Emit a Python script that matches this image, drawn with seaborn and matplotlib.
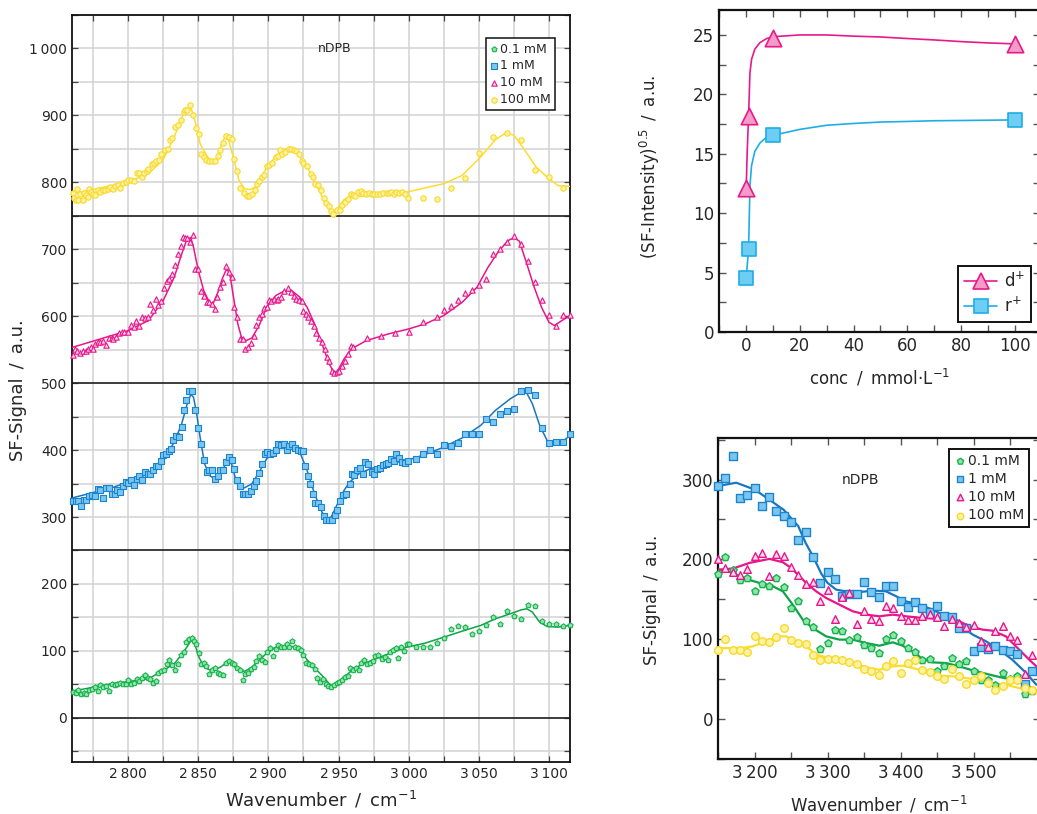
import numpy as np
import pandas as pd
import seaborn as sns
import matplotlib
matplotlib.use("Agg")
import matplotlib.pyplot as plt
from matplotlib.ticker import MultipleLocator, FuncFormatter
from matplotlib.lines import Line2D

# ---------------- CH-stretch region, stacked spectra (offset values) ----------------
green_x = [2760.5, 2762.6, 2764.5, 2766.3, 2768.4, 2770.3, 2772.4, 2774.5, 2776.3, 2778.2,
           2780.3, 2782.4, 2784.2, 2786.3, 2788.2, 2790.3, 2792.1, 2793.9, 2796.1, 2798.2,
           2800.0, 2801.8, 2803.9, 2806.1, 2807.9, 2810.0, 2811.8, 2813.9, 2815.8, 2817.9,
           2819.7, 2821.6, 2823.7, 2825.5, 2827.6, 2829.5, 2831.6, 2833.4, 2835.5, 2837.6,
           2839.5, 2841.3, 2843.4, 2845.3, 2846.8, 2848.7, 2850.5, 2852.1, 2853.9, 2855.8,
           2857.9, 2859.7, 2861.8, 2863.9, 2865.8, 2867.6, 2869.7, 2871.8, 2873.7, 2875.5,
           2877.6, 2879.7, 2881.6, 2883.4, 2885.5, 2887.6, 2889.5, 2891.3, 2893.4, 2895.5,
           2897.4, 2899.2, 2901.3, 2903.2, 2905.3, 2907.1, 2909.2, 2911.3, 2913.2, 2915.0,
           2917.1, 2918.9, 2921.0, 2922.9, 2925.0, 2926.8, 2928.9, 2930.8, 2932.9, 2934.7,
           2936.8, 2938.7, 2940.8, 2942.6, 2944.7, 2946.6, 2948.7, 2950.5, 2952.6, 2954.5,
           2956.6, 2958.4, 2960.5, 2962.4, 2964.5, 2966.3, 2968.4, 2970.3, 2972.4, 2974.5,
           2976.3, 2978.4, 2980.8, 2982.9, 2985.0, 2986.8, 2988.9, 2990.8, 2992.6, 2994.7,
           2996.8, 2998.7, 3000.0,
           3005, 3010, 3015, 3020, 3025, 3030, 3035, 3040, 3045, 3050,
           3055, 3060, 3065, 3070, 3075, 3080, 3085, 3090, 3095, 3100,
           3105, 3110, 3115]
green_y = [38.4, 36.9, 40.9, 34.9, 36.9, 35.9, 41.9, 43.4, 45.8, 39.9,
           48.3, 45.8, 46.8, 39.9, 49.8, 48.3, 49.8, 51.8, 50.8, 49.8,
           56.8, 49.8, 51.8, 58.3, 54.8, 59.8, 63.3, 59.8, 58.3, 51.8,
           54.8, 66.8, 69.7, 71.7, 79.7, 85.7, 78.2, 70.7, 79.7, 94.6,
           98.1, 113.1, 118.0, 119.5, 114.6, 110.6, 96.6, 80.7, 81.7, 76.7,
           64.8, 70.7, 74.7, 66.8, 65.8, 63.3, 81.7, 84.7, 81.7, 79.7,
           74.7, 71.7, 56.8, 65.8, 66.8, 73.2, 75.7, 84.7, 91.7, 86.7,
           83.2, 98.1, 104.6, 91.7, 103.1, 108.1, 105.6, 105.6, 110.6, 105.6,
           114.6, 105.6, 104.6, 101.6, 94.6, 81.7, 79.7, 78.2, 73.2, 59.8,
           53.3, 58.3, 49.8, 46.8, 45.8, 48.3, 51.8, 53.3, 55.8, 60.8,
           61.8, 74.7, 71.7, 74.7, 70.7, 81.7, 85.7, 79.7, 81.7, 84.7,
           91.7, 94.6, 88.2, 90.7, 86.7, 98.1, 101.6, 104.6, 89.7, 105.6,
           99.6, 109.6, 110.6,
           105.6, 105.6, 105.6, 111.6, 119.5, 133.0, 136.5, 135.5, 124.5, 129.5,
           138.0, 150.4, 140.5, 159.4, 152.4, 147.4, 167.9, 166.4, 144.4, 139.5,
           139.5, 136.5, 139.0]

blue_x = [2760.5, 2762.6, 2764.5, 2766.3, 2768.4, 2770.3, 2772.4, 2774.5, 2776.3, 2778.2,
          2780.3, 2782.4, 2784.2, 2786.3, 2788.2, 2790.3, 2792.1, 2793.9, 2796.1, 2798.2,
          2800.0, 2801.8, 2803.9, 2806.1, 2807.9, 2810.0, 2811.8, 2813.9, 2815.8, 2817.9,
          2819.7, 2821.6, 2823.2, 2825.0, 2826.8, 2828.9, 2830.8, 2832.1, 2834.2, 2836.1,
          2838.2, 2840.0, 2841.6, 2843.4, 2845.5, 2847.9, 2850.0, 2851.8, 2853.9, 2856.1,
          2857.9, 2860.0, 2861.8, 2863.9, 2865.8, 2867.9, 2869.7, 2871.6, 2873.7, 2875.8,
          2877.6, 2879.7, 2881.6, 2883.4, 2885.5, 2887.4, 2889.5, 2891.3, 2893.4, 2895.5,
          2897.4, 2899.2, 2901.3, 2903.2, 2905.3, 2907.1, 2909.2, 2911.3, 2913.2, 2915.0,
          2917.1, 2918.9, 2921.0, 2922.9, 2925.0, 2926.3, 2928.2, 2929.7, 2931.6, 2933.4,
          2935.5, 2937.6, 2939.5, 2941.3, 2943.4, 2945.3, 2947.4, 2949.2, 2951.3, 2953.2,
          2955.3, 2957.9, 2959.7, 2961.3, 2963.2, 2965.0, 2967.1, 2968.9, 2971.1, 2973.7,
          2975.5, 2977.6, 2979.7, 2981.6, 2983.7, 2985.5, 2987.6, 2989.5, 2991.3, 2993.4,
          2995.5, 2997.6, 2999.5,
          3005, 3010, 3015, 3020, 3025, 3030, 3035, 3040, 3045, 3050,
          3055, 3060, 3065, 3070, 3075, 3080, 3085, 3090, 3095, 3100,
          3105, 3110, 3115]
blue_y = [323.7, 323.7, 323.7, 315.8, 325.7, 325.7, 330.7, 332.2, 330.7, 342.1,
          339.7, 328.7, 343.6, 343.6, 334.7, 334.7, 339.7, 337.2, 345.6, 352.1,
          350.6, 354.6, 347.1, 357.1, 360.6, 355.6, 367.0, 363.6, 363.6, 369.5,
          375.5, 375.5, 383.5, 392.0, 393.4, 398.4, 401.9, 415.4, 420.3, 419.3,
          434.3, 460.2, 474.1, 488.1, 488.1, 459.2, 433.3, 408.4, 384.5, 367.0,
          370.5, 370.5, 357.1, 360.6, 369.5, 370.5, 382.0, 389.5, 385.5, 372.0,
          355.6, 345.6, 333.7, 333.7, 333.7, 338.7, 345.6, 353.6, 365.6, 378.5,
          393.4, 396.9, 393.4, 395.4, 400.4, 408.4, 406.9, 408.4, 400.4, 405.4,
          408.4, 403.4, 399.4, 398.4, 398.4, 375.5, 360.6, 348.6, 334.7, 320.7,
          320.7, 314.8, 300.8, 294.8, 294.8, 294.8, 302.3, 310.8, 323.7, 332.2,
          333.7, 349.6, 363.6, 362.1, 370.5, 373.5, 363.6, 382.0, 379.5, 367.0,
          363.6, 372.0, 373.5, 377.0, 379.5, 380.5, 387.0, 383.5, 393.4, 388.5,
          382.0, 380.5, 383.5,
          387.0, 393.4, 400.4, 393.4, 406.9, 405.4, 410.4, 423.3, 423.3, 423.3,
          446.7, 441.8, 454.2, 458.2, 461.7, 488.1, 490.1, 482.6, 432.8, 410.9,
          411.9, 411.9, 423.3]

pink_x = [2760.5, 2761.8, 2763.7, 2765.8, 2767.6, 2769.7, 2771.6, 2773.7, 2775.0, 2776.3,
          2778.2, 2780.3, 2782.1, 2784.2, 2786.1, 2788.2, 2789.5, 2791.3, 2793.4, 2795.3,
          2797.4, 2800.0, 2801.8, 2803.9, 2805.8, 2807.9, 2809.7, 2811.8, 2813.9, 2815.8,
          2817.9, 2819.7, 2821.6, 2823.7, 2825.8, 2827.6, 2828.9, 2831.6, 2833.7, 2835.5,
          2837.4, 2838.9, 2840.8, 2842.1, 2843.9, 2846.1, 2847.9, 2850.0, 2851.8, 2853.9,
          2856.1, 2857.9, 2859.7, 2861.8, 2863.7, 2865.8, 2867.6, 2869.7, 2871.6, 2873.7,
          2875.5, 2877.6, 2879.7, 2881.6, 2883.4, 2885.5, 2887.6, 2889.5, 2891.3, 2893.4,
          2895.3, 2896.6, 2898.7, 2900.5, 2902.1, 2903.9, 2905.8, 2907.1, 2909.2, 2911.3,
          2913.7, 2915.8, 2917.9, 2919.7, 2921.8, 2923.7, 2925.0, 2926.8, 2928.4, 2930.3,
          2932.4, 2934.2, 2936.1, 2938.2, 2940.0, 2941.6, 2943.4, 2945.3, 2946.8, 2948.7,
          2950.5, 2952.6, 2954.5, 2956.6, 2958.7, 2960.5,
          2970, 2980, 2990, 3000, 3010, 3020, 3025, 3030, 3035, 3040,
          3045, 3050, 3055, 3060, 3065, 3070, 3075, 3080, 3085, 3090,
          3095, 3100, 3105, 3110, 3115]
pink_y = [542.6, 551.1, 548.6, 544.6, 548.6, 548.6, 551.1, 553.6, 551.1, 558.5,
          561.0, 561.0, 563.5, 557.5, 567.5, 567.5, 566.0, 569.5, 574.5, 576.0,
          576.0, 576.0, 587.0, 583.5, 592.5, 586.0, 598.5, 597.5, 599.5, 618.4,
          609.4, 625.9, 616.9, 623.4, 642.3, 653.3, 655.8, 663.3, 675.8, 693.2,
          704.2, 718.2, 717.2, 717.2, 710.7, 721.6, 670.8, 670.8, 638.3, 630.8,
          620.9, 620.9, 618.4, 610.9, 629.4, 643.3, 650.8, 674.8, 665.8, 658.3,
          614.4, 598.5, 566.0, 566.0, 551.1, 554.6, 560.0, 571.0, 587.5, 599.4,
          603.4, 612.4, 614.4, 624.4, 623.4, 625.9, 624.4, 625.9, 628.4, 637.4,
          642.3, 635.9, 630.9, 625.9, 624.4, 622.4, 608.4, 603.4, 599.4, 592.5,
          586.0, 575.0, 567.0, 561.0, 551.1, 539.6, 533.6, 518.6, 514.6, 516.1,
          518.6, 526.1, 533.6, 543.6, 556.0, 553.5,
          567.5, 571.0, 574.5, 576.0, 591.0, 598.5, 610.0, 616.0, 623.5, 635.0,
          638.5, 647.0, 656.0, 693.0, 701.0, 711.0, 720.0, 708.0, 683.0, 651.0,
          624.0, 602.0, 586.0, 602.0, 602.0]

yellow_x = [2760.5, 2761.1, 2762.6, 2763.7, 2764.5, 2765.8, 2767.6, 2768.4, 2769.7, 2771.1,
            2772.4, 2773.7, 2775.0, 2776.3, 2778.2, 2780.3, 2782.1, 2783.7, 2785.5, 2787.4,
            2789.5, 2790.8, 2792.6, 2793.9, 2796.1, 2798.7, 2800.0, 2801.8, 2803.9, 2806.1,
            2807.9, 2809.7, 2811.3, 2813.2, 2814.5, 2817.1, 2818.4, 2819.7, 2821.8, 2823.7,
            2826.3, 2828.2, 2829.7, 2831.6, 2833.7, 2835.5, 2837.6, 2839.5, 2840.8, 2842.1,
            2843.9, 2846.1, 2848.2, 2850.3, 2851.8, 2853.9, 2855.8, 2857.9, 2859.7, 2861.8,
            2863.9, 2865.8, 2867.6, 2869.7, 2871.8, 2873.7, 2875.5, 2877.6, 2879.7, 2882.4,
            2884.7, 2886.3, 2888.2, 2890.3, 2892.1, 2893.4, 2895.3, 2896.8, 2898.7, 2900.5,
            2902.6, 2905.3, 2907.1, 2908.4, 2909.7, 2911.8, 2914.5, 2916.3, 2917.9, 2919.7,
            2921.8, 2923.7, 2925.0, 2927.6, 2930.3, 2931.6, 2933.4, 2935.5, 2937.6, 2939.5,
            2941.3, 2942.9, 2944.7, 2946.1, 2948.7, 2950.8, 2952.6, 2954.7, 2956.6, 2958.7,
            2960.5, 2961.8, 2963.9, 2965.8, 2967.6, 2969.7, 2971.6, 2973.7, 2975.5, 2977.6,
            2979.7, 2981.6, 2984.2, 2986.1, 2987.6, 2989.5, 2991.3, 2993.4, 2995.5, 2997.4,
            2999.5, 3010, 3020, 3030, 3040, 3050, 3060, 3070, 3080, 3090,
            3100, 3110]
yellow_y = [784.0, 777.0, 774.0, 790.5, 773.0, 783.0, 774.0, 784.0, 780.5, 778.0,
            790.5, 785.5, 783.0, 781.5, 788.0, 785.5, 789.0, 788.0, 790.5, 793.0,
            790.5, 794.0, 795.5, 791.5, 799.0, 800.5, 803.0, 804.0, 802.0, 814.0,
            814.0, 808.0, 814.0, 817.0, 820.5, 827.0, 829.0, 831.4, 833.0, 842.0,
            848.8, 850.3, 862.8, 866.8, 882.8, 885.3, 893.7, 905.2, 907.7, 907.7,
            915.2, 901.2, 881.8, 871.8, 842.9, 837.9, 833.9, 831.4, 831.4, 831.4,
            838.9, 847.8, 859.3, 868.8, 867.8, 865.3, 835.4, 817.0, 792.0, 784.0,
            779.5, 779.5, 783.0, 788.0, 797.0, 801.5, 808.0, 810.4, 824.4, 825.4,
            829.4, 837.9, 838.9, 847.8, 842.9, 845.3, 850.3, 849.3, 847.8, 846.8,
            841.9, 831.4, 828.9, 823.9, 811.9, 808.0, 798.0, 795.5, 788.0, 777.0,
            769.0, 764.0, 757.0, 753.0, 758.0, 759.0, 765.5, 770.5, 774.5, 782.0,
            780.5, 779.0, 785.5, 787.0, 784.0, 782.0, 784.0, 783.0, 783.0, 782.0,
            782.0, 784.0, 784.0, 784.5, 785.5, 782.0, 785.5, 784.0, 785.5, 783.0,
            777.0, 777.0, 775.5, 792.0, 806.5, 843.8, 867.8, 874.3, 862.8, 819.0,
            808.0, 791.5]

# fitted model curves (same offsets)
green_fit_x = [2760.5, 2788.2, 2814.5, 2825.0, 2832.9, 2839.5, 2843.4, 2845.5, 2847.4, 2850.5,
               2853.9, 2857.9, 2861.8, 2865.8, 2869.7, 2872.9, 2876.3, 2879.7, 2883.4, 2888.2,
               2893.4, 2898.7, 2905.3, 2911.8, 2917.1, 2922.4, 2927.6, 2932.9, 2938.2, 2943.4,
               2946.1, 2950.0, 2955.3, 2961.8, 2972.4, 2985.5, 2998.7, 3011.8, 3025.0, 3038.2,
               3051.3, 3061.8, 3072.4, 3080.3, 3084.2, 3088.2, 3093.4, 3098.7, 3106.6, 3115.0]
green_fit_y = [39.9, 50.8, 58.3, 70.7, 80.7, 98.1, 110.6, 118.0, 110.6, 90.7,
               76.7, 71.7, 71.7, 75.7, 81.7, 83.2, 75.7, 69.7, 69.7, 75.7,
               85.7, 96.6, 105.6, 106.6, 106.6, 101.6, 86.7, 74.7, 63.3, 50.8,
               46.8, 53.3, 63.3, 74.7, 84.7, 95.6, 105.6, 111.6, 120.5, 129.5,
               138.0, 147.9, 155.4, 161.4, 162.9, 157.9, 142.9, 136.5, 135.5, 138.0]

blue_fit_x = [2760.5, 2788.2, 2800.0, 2814.5, 2825.0, 2832.9, 2838.2, 2842.1, 2844.7, 2846.6,
              2848.7, 2851.3, 2854.5, 2857.9, 2861.8, 2865.8, 2869.7, 2871.8, 2873.7, 2876.3,
              2878.9, 2882.9, 2888.2, 2893.4, 2898.7, 2905.3, 2911.8, 2917.1, 2922.4, 2927.6,
              2932.9, 2938.2, 2942.1, 2944.7, 2948.7, 2953.9, 2957.9, 2964.5, 2972.4, 2985.5,
              2998.7, 3011.8, 3025.0, 3038.2, 3051.3, 3061.8, 3072.4, 3080.3, 3084.2, 3088.2,
              3093.4, 3098.7, 3103.9, 3109.2, 3115.0]
blue_fit_y = [328.7, 343.6, 352.1, 364.6, 384.5, 411.9, 439.3, 469.1, 483.1, 479.1,
              456.7, 419.3, 379.5, 362.1, 357.1, 364.6, 379.5, 384.5, 379.5, 359.6,
              345.6, 343.6, 349.6, 367.0, 386.9, 401.9, 407.9, 405.4, 396.9, 369.5,
              334.7, 307.3, 297.3, 299.8, 317.2, 339.7, 352.1, 364.6, 372.0, 379.5,
              384.5, 393.4, 404.4, 418.3, 436.8, 459.2, 476.6, 486.6, 485.1, 469.1,
              436.8, 414.4, 406.9, 411.9, 421.8]

pink_fit_x = [2760.5, 2800.0, 2814.5, 2825.0, 2832.9, 2838.2, 2842.1, 2844.7, 2846.6, 2850.0,
              2853.9, 2857.9, 2860.5, 2864.5, 2867.1, 2869.7, 2871.0, 2872.9, 2875.5, 2878.2,
              2880.8, 2884.2, 2888.2, 2893.4, 2898.7, 2905.3, 2911.8, 2917.1, 2922.4, 2927.6,
              2932.9, 2938.2, 2943.4, 2946.6, 2949.2, 2953.9, 2959.2, 2969.7, 2985.5, 3000.0,
              3011.8, 3025.0, 3038.2, 3048.7, 3056.6, 3064.5, 3071.0, 3075.0, 3078.9, 3084.2,
              3089.5, 3094.7, 3100.0, 3103.9, 3109.2, 3115.0]
pink_fit_y = [553.6, 578.5, 593.5, 623.4, 658.3, 693.2, 715.7, 717.2, 703.2, 668.3,
              638.3, 620.9, 618.4, 638.3, 655.8, 668.3, 669.3, 658.3, 623.4, 588.5,
              568.5, 563.5, 567.5, 586.0, 613.4, 630.9, 638.3, 637.4, 628.4, 613.4,
              588.5, 558.5, 528.6, 516.1, 517.6, 536.1, 551.1, 563.5, 573.5, 581.0,
              588.5, 601.0, 620.9, 643.3, 673.3, 698.2, 713.2, 717.2, 712.2, 678.3,
              643.3, 613.4, 591.0, 586.0, 593.5, 601.0]

yellow_fit_x = [2760.5, 2800.0, 2814.5, 2825.0, 2832.9, 2838.2, 2840.8, 2845.0, 2848.2, 2851.3,
                2856.6, 2860.5, 2863.2, 2867.1, 2870.3, 2875.0, 2879.0, 2882.9, 2886.8, 2890.8,
                2894.7, 2900.0, 2906.6, 2913.2, 2917.1, 2921.0, 2927.6, 2935.5, 2940.8, 2944.7,
                2946.8, 2950.0, 2954.0, 2959.2, 2972.4, 2998.7, 3025.0, 3038.2, 3051.3, 3061.8,
                3069.7, 3075.0, 3082.9, 3090.8, 3098.7, 3106.6, 3115.0]
yellow_fit_y = [783.0, 800.4, 812.9, 833.9, 867.8, 896.7, 907.7, 910.2, 887.7, 857.8,
                837.9, 830.4, 835.4, 860.3, 871.8, 837.9, 803.0, 790.5, 789.0, 793.0,
                808.0, 825.4, 841.9, 850.3, 849.3, 842.9, 822.9, 790.5, 768.0, 755.6,
                752.1, 763.1, 774.5, 778.0, 780.5, 785.5, 798.0, 810.4, 837.9, 863.8,
                874.3, 870.3, 847.8, 822.9, 808.0, 795.0, 794.0]

series_labels = ["0.1 mM", "1 mM", "10 mM", "100 mM"]

# ---------------- band amplitude vs concentration ----------------
conc = [0.1, 1, 10, 100]
d_plus = [12.1, 18.2, 24.75, 24.25]
r_plus = [4.55, 6.95, 16.55, 17.85]
d_fit_x = [0.1, 0.5, 1, 1.5, 2.1, 3.3, 5.2, 7.7, 10, 20, 30, 40, 50, 60, 70, 80, 90, 100]
d_fit_y = [12.1, 15.3, 18.2, 21.8, 22.95, 23.8, 24.35, 24.7, 24.85, 25.0, 25.0, 24.9,
           24.83, 24.7, 24.58, 24.44, 24.33, 24.25]
r_fit_x = [0.1, 1, 1.5, 2.1, 3.3, 5.2, 7.7, 10, 20, 30, 40, 50, 60, 70, 80, 100]
r_fit_y = [4.55, 6.95, 12.3, 14.0, 15.2, 15.9, 16.4, 16.55, 17.05, 17.4, 17.55, 17.67,
           17.72, 17.78, 17.8, 17.85]

# ---------------- OH-stretch region ----------------
oh_x = [3150, 3160, 3170, 3180, 3190, 3200, 3210, 3220, 3230, 3240,
        3250, 3260, 3270, 3280, 3290, 3300, 3310, 3320, 3330, 3340,
        3350, 3360, 3370, 3380, 3390, 3400, 3410, 3420, 3430, 3440,
        3450, 3460, 3470, 3480, 3490, 3500, 3510, 3520, 3530, 3540,
        3550, 3560, 3570, 3580]
oh_green = [181.8, 203.0, 187.2, 174.7, 176.3, 160.0, 169.7, 167.2, 176.8, 165.5,
            139.2, 147.5, 122.4, 115.3, 87.8, 95.3, 112.0, 109.9, 99.5, 102.8,
            93.2, 89.0, 82.7, 100.3, 105.7, 97.4, 89.0, 83.6, 73.5, 75.2,
            59.8, 66.9, 76.5, 69.4, 72.3, 59.8, 48.5, 48.5, 43.0, 57.7,
            50.1, 54.3, 31.8, 34.7]
oh_blue = [292.5, 302.0, 329.3, 277.0, 280.0, 288.8, 267.4, 278.3, 260.3, 254.0,
           247.0, 224.0, 234.0, 203.5, 170.5, 183.9, 175.5, 153.8, 157.0, 157.0,
           171.3, 158.8, 152.5, 166.3, 166.3, 147.5, 140.4, 146.3, 139.2, 133.7,
           142.0, 128.7, 127.9, 114.0, 114.0, 84.8, 89.8, 87.8, 91.1, 86.9,
           84.8, 81.5, 43.9, 59.8]
oh_pink = [201.0, 189.3, 184.3, 181.0, 188.0, 204.8, 208.1, 179.7, 206.9, 204.8,
           190.1, 180.1, 169.2, 171.7, 147.5, 162.1, 125.8, 153.0, 158.0, 119.5,
           135.0, 125.8, 122.4, 142.1, 138.7, 128.7, 124.5, 124.5, 129.5, 132.0,
           127.9, 116.2, 125.4, 120.4, 115.3, 117.4, 97.4, 89.8, 109.9, 117.0,
           103.6, 99.5, 56.8, 80.7]
oh_yellow = [86.9, 100.3, 86.1, 86.9, 84.0, 104.5, 97.4, 96.1, 102.4, 114.1,
             98.6, 95.3, 94.0, 80.7, 74.4, 75.2, 75.2, 73.5, 71.0, 69.4,
             62.7, 59.8, 55.6, 66.9, 72.3, 57.7, 70.2, 74.4, 61.8, 58.5,
             53.5, 50.1, 62.7, 54.3, 44.3, 48.5, 54.3, 45.1, 35.9, 41.0,
             49.3, 48.5, 38.9, 35.9]

oh_green_fit_x = [3150.8, 3170.4, 3188.6, 3206.8, 3225.1, 3238.8, 3252.4, 3266.1, 3279.8, 3298.0,
                  3316.3, 3334.5, 3352.8, 3371.0, 3389.2, 3402.9, 3416.6, 3430.3, 3443.9, 3462.2,
                  3480.4, 3498.7, 3516.9, 3535.2, 3553.4, 3571.6, 3586.0]
oh_green_fit_y = [187.2, 183.0, 175.5, 170.5, 166.3, 160.0, 143.3, 124.5, 114.0, 103.6,
                  99.5, 99.5, 95.3, 91.9, 96.1, 91.9, 84.8, 75.2, 71.0, 70.2,
                  66.0, 61.0, 56.8, 52.7, 49.3, 43.0, 36.0]
oh_blue_fit_x = [3150.8, 3175.0, 3200.0, 3220.0, 3240.0, 3260.0, 3270.0, 3280.0, 3291.0, 3300.0,
                 3312.0, 3325.0, 3344.0, 3362.0, 3380.0, 3394.0, 3407.0, 3426.0, 3444.0, 3462.0,
                 3480.0, 3499.0, 3517.0, 3535.0, 3553.0, 3572.0, 3586.0]
oh_blue_fit_y = [292.0, 296.0, 287.5, 275.0, 262.0, 241.5, 220.6, 204.0, 183.0, 170.5,
                 162.0, 160.0, 159.0, 161.0, 160.0, 153.8, 147.5, 143.3, 137.0, 128.7,
                 118.3, 105.7, 97.4, 87.0, 74.4, 57.7, 43.0]
oh_pink_fit_x = [3150.8, 3170.4, 3193.2, 3220.5, 3238.8, 3250.2, 3261.6, 3270.7, 3284.4, 3298.0,
                 3316.3, 3334.5, 3352.8, 3371.0, 3389.2, 3407.5, 3430.3, 3453.0, 3475.9, 3494.1,
                 3512.4, 3526.0, 3544.3, 3562.5, 3576.2, 3586.0]
oh_pink_fit_y = [187.2, 188.5, 195.6, 200.6, 196.4, 189.3, 178.9, 170.5, 160.0, 151.7,
                 143.3, 135.0, 130.8, 128.7, 130.8, 128.7, 126.6, 125.4, 124.5, 116.2,
                 112.0, 110.7, 103.6, 86.9, 74.4, 66.0]
oh_yellow_fit_x = [3150.8, 3179.5, 3197.7, 3216.0, 3234.2, 3243.3, 3257.0, 3270.7, 3284.4, 3302.6,
                   3320.8, 3339.1, 3357.3, 3371.0, 3389.2, 3402.9, 3416.6, 3434.8, 3453.0, 3471.3,
                   3489.6, 3507.8, 3526.0, 3544.3, 3562.5, 3586.0]
oh_yellow_fit_y = [89.0, 88.6, 91.1, 97.4, 103.6, 103.6, 97.4, 91.1, 80.7, 76.5,
                   73.5, 68.1, 63.9, 61.8, 66.0, 66.9, 63.9, 59.8, 54.3, 53.5,
                   51.4, 49.3, 45.1, 43.0, 38.9, 32.6]

# ---------------- styling ----------------
sns.set_style("ticks")
plt.rcParams["font.family"] = ["DejaVu Sans"]
plt.rcParams["mathtext.fontset"] = "dejavusans"

SEP = "\u2002/\u2002"
styles = {
    "green":  dict(line="#0fa34a", face="#8ee6a6", edge="#18b04f", marker="p"),
    "blue":   dict(line="#1a76bf", face="#7ac6ef", edge="#1c84cc", marker="s"),
    "pink":   dict(line="#e8168b", face="#fcdcec", edge="#e8168b", marker="^"),
    "yellow": dict(line="#ffdc2e", face="#fff3a0", edge="#f7d92c", marker="o"),
}
thin_fmt = FuncFormatter(lambda v, p: f"{v:,.0f}".replace(",", "\u2009"))

fig = plt.figure(figsize=(10.37, 8.14), dpi=100)
W, H = 1037.0, 814.0


def add_axes_px(x0, y0, x1, y1):
    return fig.add_axes([x0 / W, 1 - y1 / H, (x1 - x0) / W, (y1 - y0) / H])


def frame(ax, lw=1.3):
    for s in ax.spines.values():
        s.set_visible(True)
        s.set_linewidth(lw)
        s.set_color("#111111")


# ===== left: stacked CH spectra =====
ax = add_axes_px(72, 15, 570, 762)
frame(ax)
left_series = [
    ("green", green_x, green_y, green_fit_x, green_fit_y),
    ("blue", blue_x, blue_y, blue_fit_x, blue_fit_y),
    ("pink", pink_x, pink_y, pink_fit_x, pink_fit_y),
    ("yellow", yellow_x, yellow_y, yellow_fit_x, yellow_fit_y),
]
for (key, xs, ys, fx, fy), lab in zip(left_series, series_labels):
    st = styles[key]
    sns.lineplot(x=fx, y=fy, ax=ax, color=st["line"], lw=1.1, estimator=None, sort=False,
                 zorder=3)
    sns.scatterplot(x=xs, y=ys, ax=ax, marker=st["marker"], s=15, facecolor=st["face"],
                    edgecolor=st["edge"], linewidth=0.8, label=lab, zorder=4, clip_on=False)
for yb in (0, 250, 500, 750):
    ax.axhline(yb, color="#222222", lw=1.2, zorder=2)
ax.set_xlim(2760, 3115)
ax.set_ylim(-66, 1050)
ax.xaxis.set_major_locator(MultipleLocator(50))
ax.xaxis.set_minor_locator(MultipleLocator(25))
ax.yaxis.set_major_locator(MultipleLocator(100))
ax.yaxis.set_minor_locator(MultipleLocator(50))
ax.xaxis.set_major_formatter(thin_fmt)
ax.yaxis.set_major_formatter(thin_fmt)
ax.grid(which="both", color="#d2d2d2", lw=1.1, zorder=0)
ax.set_axisbelow(True)
ax.tick_params(which="both", direction="in", top=True, right=True, length=4,
               width=0.9, color="#444444", labelsize=10)
ax.text(2947, 1000, "nDPB", ha="center", va="center", fontsize=9)
ax.set_xlabel("Wavenumber" + SEP + "cm$^{-1}$", fontsize=13)
ax.set_ylabel("SF-Signal" + SEP + "a.u.", fontsize=13)
ax.xaxis.set_label_coords(0.50, -0.051)
ax.xaxis.label.set_va("center")
ax.yaxis.set_label_coords(-0.108, 0.498)
ax.yaxis.label.set_va("center")
leg = ax.legend(loc="upper right", bbox_to_anchor=(0.970, 0.969), borderaxespad=0,
                fontsize=9, handlelength=0.7, handletextpad=0.1, borderpad=0.35,
                labelspacing=0.3, fancybox=False, framealpha=1, edgecolor="#111111")
leg.get_frame().set_linewidth(1.1)

# ===== top right: amplitude vs concentration =====
ax2 = add_axes_px(719, 10, 1040, 332)
frame(ax2, 1.6)
d_col, d_face = "#e8198b", "#f29cc7"
r_col, r_face = "#1eaee6", "#6dcdf2"
sns.lineplot(x=d_fit_x, y=d_fit_y, ax=ax2, color=d_col, lw=1.2, estimator=None, sort=False)
sns.lineplot(x=r_fit_x, y=r_fit_y, ax=ax2, color=r_col, lw=1.2, estimator=None, sort=False)
sns.scatterplot(x=conc, y=d_plus, ax=ax2, marker="^", s=140, facecolor=d_face,
                edgecolor=d_col, linewidth=1.2, zorder=4, clip_on=False)
sns.scatterplot(x=conc, y=r_plus, ax=ax2, marker="s", s=110, facecolor=r_face,
                edgecolor=r_col, linewidth=1.2, zorder=4, clip_on=False)
ax2.set_xlim(-10, 109.3)
ax2.set_ylim(0, 27.1)
ax2.xaxis.set_major_locator(MultipleLocator(20))
ax2.xaxis.set_minor_locator(MultipleLocator(10))
ax2.yaxis.set_major_locator(MultipleLocator(5))
ax2.yaxis.set_minor_locator(MultipleLocator(2.5))
ax2.tick_params(which="both", direction="in", top=True, right=True, length=5,
                width=1.0, color="#555555", labelsize=12)
ax2.set_xlabel("conc" + SEP + "mmol\u00b7L$^{-1}$", fontsize=12)
ax2.set_ylabel("(SF-Intensity)$^{0.5}$" + SEP + "a.u.", fontsize=12)
ax2.xaxis.set_label_coords(0.50, -0.143)
ax2.xaxis.label.set_va("center")
ax2.yaxis.set_label_coords(-0.215, 0.512)
ax2.yaxis.label.set_va("center")
handles = [
    Line2D([], [], color=d_col, lw=1.2, marker="^", markersize=11,
           markerfacecolor=d_face, markeredgecolor=d_col, markeredgewidth=1.2),
    Line2D([], [], color=r_col, lw=1.2, marker="s", markersize=10,
           markerfacecolor=r_face, markeredgecolor=r_col, markeredgewidth=1.2),
]
leg2 = ax2.legend(handles, ["d$^{+}$", "r$^{+}$"], loc="lower right",
                  bbox_to_anchor=(0.972, 0.031), borderaxespad=0, fontsize=12,
                  handlelength=2.0, handletextpad=0.4, borderpad=0.35, labelspacing=0.35,
                  fancybox=False, framealpha=1, edgecolor="#111111")
leg2.get_frame().set_linewidth(1.4)

# ===== bottom right: OH region =====
ax3 = add_axes_px(718, 438, 1040, 759)
frame(ax3, 1.6)
oh_series = [
    ("green", oh_green, oh_green_fit_x, oh_green_fit_y),
    ("blue", oh_blue, oh_blue_fit_x, oh_blue_fit_y),
    ("pink", oh_pink, oh_pink_fit_x, oh_pink_fit_y),
    ("yellow", oh_yellow, oh_yellow_fit_x, oh_yellow_fit_y),
]
for (key, ys, fx, fy), lab in zip(oh_series, series_labels):
    st = styles[key]
    sns.lineplot(x=fx, y=fy, ax=ax3, color=st["line"], lw=1.6, estimator=None, sort=False,
                 zorder=3)
    sns.scatterplot(x=oh_x, y=ys, ax=ax3, marker=st["marker"], s=30, facecolor=st["face"],
                    edgecolor=st["edge"], linewidth=1.0, label=lab, zorder=4, clip_on=False)
ax3.set_xlim(3150, 3591)
ax3.set_ylim(-50, 352)
ax3.xaxis.set_major_locator(MultipleLocator(100))
ax3.xaxis.set_minor_locator(MultipleLocator(50))
ax3.yaxis.set_major_locator(MultipleLocator(100))
ax3.yaxis.set_minor_locator(MultipleLocator(50))
ax3.xaxis.set_major_formatter(thin_fmt)
ax3.tick_params(which="both", direction="in", top=True, right=True, length=5,
                width=1.0, color="#555555", labelsize=12)
ax3.text(3345, 300, "nDPB", ha="center", va="center", fontsize=10)
ax3.set_xlabel("Wavenumber" + SEP + "cm$^{-1}$", fontsize=12)
ax3.set_ylabel("SF-Signal" + SEP + "a.u.", fontsize=12)
ax3.xaxis.set_label_coords(0.50, -0.143)
ax3.xaxis.label.set_va("center")
ax3.yaxis.set_label_coords(-0.205, 0.495)
ax3.yaxis.label.set_va("center")
leg3 = ax3.legend(loc="upper right", bbox_to_anchor=(0.966, 0.966), borderaxespad=0,
                  fontsize=10, handlelength=0.8, handletextpad=0.2, borderpad=0.35,
                  labelspacing=0.3, fancybox=False, framealpha=1, edgecolor="#111111",
                  markerscale=0.85)
leg3.get_frame().set_linewidth(1.4)

fig.savefig("out.png", dpi=100)
